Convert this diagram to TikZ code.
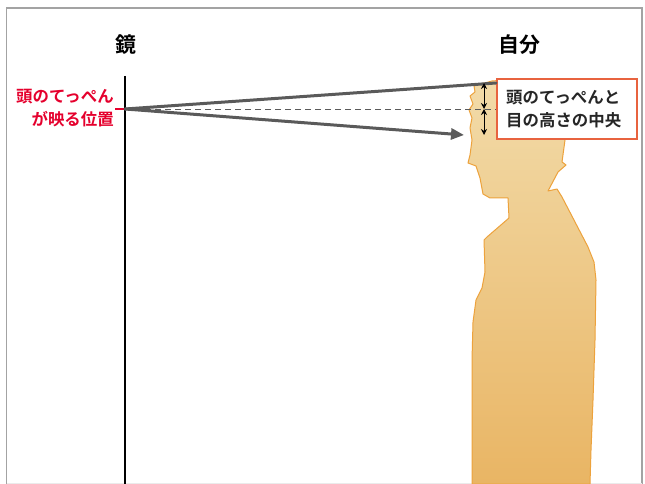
\documentclass[tikz,border=0pt]{standalone}
\usepackage{fontspec}
\setmainfont{Noto Sans CJK JP}[BoldFont={Noto Sans CJK JP Bold}]
\usetikzlibrary{arrows.meta}
\definecolor{framegray}{HTML}{A3A3A3}
\definecolor{raygray}{HTML}{5A5A5A}
\definecolor{labelred}{HTML}{E5002D}
\definecolor{boxred}{HTML}{E8633F}
\definecolor{bodytop}{HTML}{F2DBA9}
\definecolor{bodybot}{HTML}{E9B564}
\definecolor{bodyline}{HTML}{EDA23C}
\tikzset{
  frameline/.style={framegray, line width=1.5bp},
  ray/.style={raygray, line width=3bp, line cap=round},
  midline/.style={raygray, line width=0.8bp, dash pattern=on 6bp off 4bp},
  measure/.style={black, line width=0.9bp, {Stealth[length=6bp,width=6bp]}-{Stealth[length=6bp,width=6bp]}},
  title/.style={font=\bfseries\fontsize{21}{24}\selectfont, inner sep=0pt},
  note/.style={font=\bfseries\fontsize{16.5}{23}\selectfont, inner sep=0pt},
}
\begin{document}
\begin{tikzpicture}[x=1bp,y=-1bp]
\useasboundingbox (0,0) rectangle (645,484);
\fill[white] (0,0) rectangle (645,484);

% outer frame
\draw[frameline] (6.5,484) -- (6.5,8) -- (642,8) -- (642,484);
\draw[black!8, line width=1bp] (6.5,483.5) -- (642,483.5);

% person silhouette
\path[draw=bodyline, line width=1bp, top color=bodytop, bottom color=bodybot, line join=round]
  (472,484) -- (472,420) -- (472,360) -- (473,322) -- (476,300) -- (482,288)
  -- (485,272) -- (484,240) -- (487,237) -- (509,218) -- (508,198)
  -- (490,198) -- (483,194) -- (480,178) -- (476,166) -- (468,163)
  -- (470,155) -- (472,140) -- (470,128) -- (472,118) -- (469,110)
  -- (473,104) -- (470,96) -- (475,92) -- (474,86) -- (481,84)
  -- (492,81) -- (520,79) -- (548,84) -- (562,98) -- (567,120)
  -- (565,140) -- (562,162) -- (566,165) -- (558,172) -- (548,191)
  -- (557,189) -- (562,197) -- (588,247) -- (594,262) -- (596,280)
  -- (595,340) -- (593,400) -- (591,450) -- (590,484) -- cycle;

% mirror
\coordinate (mtop) at (125,76);
\coordinate (mbot) at (125,484);
\draw[black, line width=1.5bp] (mtop) -- (mbot);
\coordinate (m) at (125,109);
\coordinate (tick) at (115,109);
\draw[labelred, line width=2bp] (tick) -- (m);

% titles
\node[title] (mirror) at (126,45) {鏡};
\node[title] (self) at (519,45) {自分};

% label at the mirror
\node[note, text=labelred, align=right, anchor=east] (spot) at (114,108.5)
  {頭のてっぺん\\が映る位置};

% label box
\node[draw=boxred, line width=1.5bp, fill=white,
      minimum width=140bp, minimum height=60bp, inner sep=0pt]
  (box) at (567,109) {};
\node[note, align=left, anchor=west, text=black!85] (boxtext) at (506,109)
  {頭のてっぺんと\\目の高さの中央};

% rays
\coordinate (head) at (496,83);
\coordinate (gaze) at (464,135);
\coordinate (mid) at (496,109);
\draw[midline] (m) -- (mid);
\draw[ray] (m) -- (head);
\draw[ray, -{Triangle[length=13bp,width=11bp]}] (m) -- (gaze);

% measures
\coordinate (ha) at (484,83);
\coordinate (hb) at (484,109);
\coordinate (hc) at (484,135);
\draw[measure] (ha) -- (hb);
\draw[measure] (hb) -- (hc);
\end{tikzpicture}
\end{document}
